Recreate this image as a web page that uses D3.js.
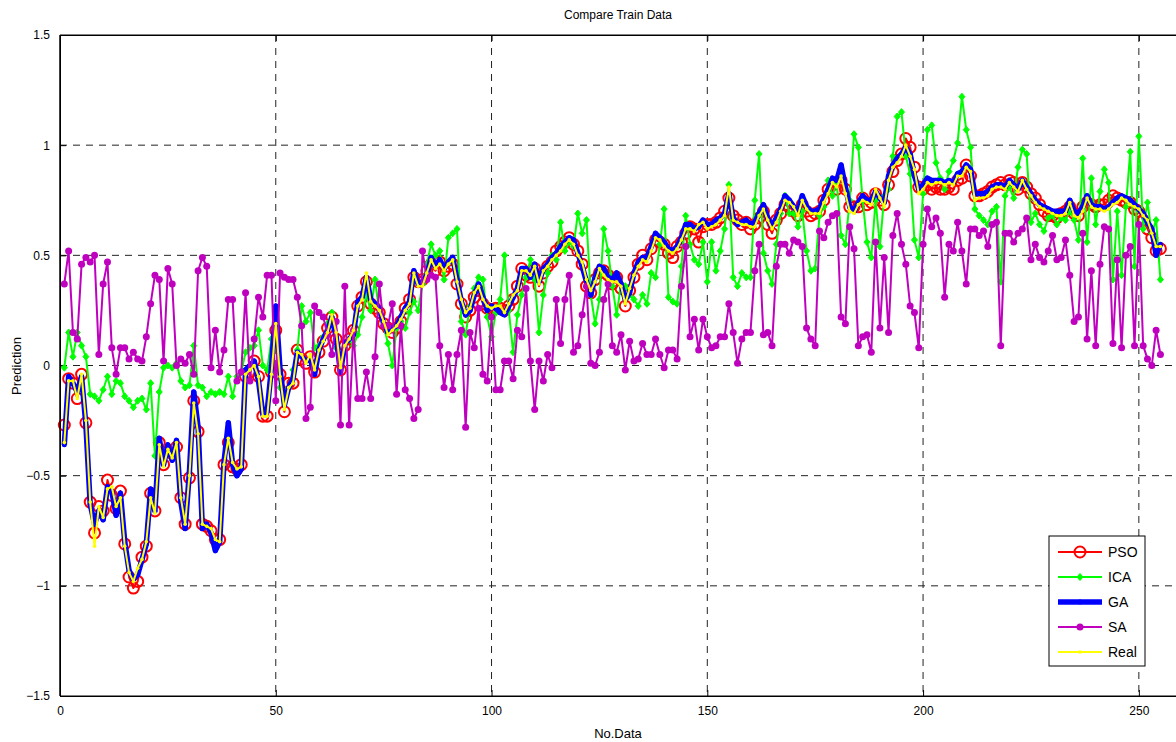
<!DOCTYPE html>
<html>
<head>
<meta charset="utf-8">
<script src="https://cdn.jsdelivr.net/npm/d3@7"></script>
<style>
  body { margin: 0; background: #fff; }
  text { font-family: "Liberation Sans", Arial, sans-serif; }
</style>
</head>
<body>
<div id="chart"></div>
<script>
// values (sample 1..255)
var real = [
  -0.35,-0.07,-0.07,-0.15,-0.04,-0.25,-0.62,-0.82,-0.64,-0.69,
  -0.56,-0.55,-0.64,-0.60,-0.82,-0.94,-0.98,-0.92,-0.88,-0.80,
  -0.60,-0.67,-0.36,-0.46,-0.38,-0.42,-0.35,-0.60,-0.72,-0.50,
  -0.17,-0.31,-0.72,-0.73,-0.74,-0.79,-0.80,-0.45,-0.33,-0.44,
  -0.47,-0.46,-0.04,-0.02,0.00,-0.05,-0.23,-0.23,-0.04,0.19,
  -0.05,-0.20,-0.10,-0.08,0.06,0.05,0.01,0.05,-0.02,0.07,
  0.11,0.15,0.23,0.15,-0.01,0.09,0.12,0.16,0.27,0.30,
  0.42,0.29,0.27,0.25,0.20,0.14,0.16,0.18,0.21,0.25,
  0.28,0.42,0.36,0.36,0.42,0.48,0.44,0.46,0.43,0.46,
  0.48,0.38,0.30,0.24,0.26,0.33,0.36,0.30,0.27,0.26,
  0.27,0.27,0.24,0.28,0.32,0.34,0.43,0.43,0.41,0.45,
  0.37,0.43,0.45,0.48,0.50,0.52,0.55,0.57,0.55,0.50,
  0.47,0.39,0.34,0.38,0.44,0.41,0.39,0.38,0.38,0.36,
  0.28,0.35,0.41,0.45,0.48,0.47,0.52,0.58,0.57,0.54,
  0.52,0.51,0.53,0.57,0.62,0.62,0.61,0.64,0.65,0.62,
  0.63,0.64,0.66,0.68,0.81,0.66,0.65,0.64,0.64,0.63,
  0.63,0.68,0.71,0.66,0.62,0.65,0.70,0.75,0.74,0.72,
  0.68,0.75,0.71,0.69,0.69,0.69,0.74,0.78,0.83,0.81,
  0.86,0.78,0.70,0.69,0.73,0.75,0.74,0.73,0.80,0.76,
  0.72,0.84,0.90,0.92,0.95,1.00,0.95,0.89,0.78,0.80,
  0.83,0.82,0.83,0.83,0.82,0.83,0.82,0.86,0.86,0.90,
  0.88,0.75,0.76,0.76,0.77,0.80,0.81,0.81,0.80,0.83,
  0.81,0.79,0.84,0.80,0.77,0.74,0.72,0.71,0.70,0.69,
  0.68,0.68,0.69,0.74,0.68,0.67,0.70,0.76,0.72,0.71,
  0.71,0.70,0.71,0.73,0.74,0.76,0.75,0.73,0.72,0.71,
  0.68,0.66,0.60,0.54,0.54
];

var pso = [
  -0.27,-0.06,-0.08,-0.15,-0.04,-0.26,-0.62,-0.76,-0.64,-0.66,
  -0.52,-0.59,-0.65,-0.57,-0.81,-0.96,-1.01,-0.98,-0.87,-0.82,
  -0.58,-0.66,-0.35,-0.45,-0.39,-0.40,-0.37,-0.60,-0.72,-0.51,
  -0.16,-0.30,-0.72,-0.73,-0.75,-0.79,-0.79,-0.45,-0.35,-0.46,
  -0.47,-0.45,-0.05,-0.03,0.02,-0.05,-0.23,-0.23,-0.03,0.16,
  -0.04,-0.21,-0.08,-0.08,0.07,0.03,0.01,0.04,-0.03,0.06,
  0.11,0.17,0.22,0.12,-0.02,0.09,0.12,0.16,0.27,0.31,
  0.38,0.28,0.26,0.24,0.19,0.17,0.15,0.17,0.20,0.26,
  0.30,0.40,0.38,0.39,0.43,0.46,0.43,0.47,0.43,0.45,
  0.46,0.37,0.28,0.22,0.25,0.31,0.34,0.28,0.26,0.25,
  0.26,0.26,0.25,0.27,0.30,0.36,0.44,0.41,0.40,0.44,
  0.36,0.42,0.45,0.47,0.52,0.54,0.56,0.58,0.55,0.52,
  0.46,0.36,0.33,0.39,0.42,0.43,0.41,0.37,0.40,0.35,
  0.27,0.34,0.40,0.46,0.50,0.48,0.53,0.57,0.56,0.55,
  0.51,0.49,0.54,0.56,0.60,0.63,0.62,0.56,0.63,0.64,
  0.64,0.65,0.67,0.70,0.76,0.68,0.66,0.64,0.65,0.62,
  0.64,0.67,0.70,0.64,0.60,0.66,0.69,0.73,0.72,0.70,
  0.68,0.73,0.70,0.68,0.69,0.70,0.75,0.80,0.82,0.80,
  0.84,0.80,0.72,0.72,0.72,0.76,0.73,0.74,0.78,0.75,
  0.73,0.82,0.88,0.93,0.96,1.03,0.99,0.90,0.81,0.80,
  0.82,0.80,0.81,0.80,0.80,0.81,0.80,0.84,0.85,0.91,
  0.86,0.77,0.77,0.78,0.79,0.81,0.82,0.83,0.82,0.84,
  0.83,0.80,0.83,0.81,0.78,0.76,0.73,0.70,0.68,0.68,
  0.67,0.69,0.70,0.72,0.69,0.68,0.72,0.74,0.73,0.72,
  0.73,0.73,0.75,0.77,0.76,0.75,0.74,0.74,0.71,0.70,
  0.66,0.62,0.58,0.52,0.53
];

var ga = [
  -0.36,-0.05,-0.08,-0.12,-0.05,-0.27,-0.63,-0.72,-0.66,-0.70,
  -0.55,-0.57,-0.68,-0.58,-0.80,-0.93,-0.97,-0.95,-0.88,-0.81,
  -0.56,-0.66,-0.33,-0.45,-0.36,-0.43,-0.34,-0.62,-0.74,-0.48,
  -0.12,-0.28,-0.74,-0.72,-0.76,-0.84,-0.80,-0.44,-0.26,-0.45,
  -0.50,-0.47,-0.02,0.00,0.02,-0.07,-0.22,-0.21,-0.01,0.27,
  -0.02,-0.18,-0.10,-0.06,0.06,0.04,0.02,0.03,-0.04,0.07,
  0.12,0.16,0.22,0.13,-0.03,0.10,0.12,0.14,0.29,0.31,
  0.40,0.30,0.28,0.26,0.19,0.15,0.17,0.18,0.22,0.26,
  0.29,0.43,0.37,0.38,0.41,0.49,0.45,0.48,0.44,0.47,
  0.49,0.39,0.29,0.23,0.25,0.32,0.37,0.31,0.25,0.27,
  0.26,0.24,0.23,0.27,0.31,0.35,0.44,0.44,0.40,0.46,
  0.38,0.44,0.46,0.49,0.51,0.54,0.56,0.58,0.57,0.51,
  0.45,0.38,0.32,0.40,0.45,0.44,0.40,0.39,0.42,0.37,
  0.30,0.33,0.42,0.47,0.49,0.49,0.54,0.60,0.58,0.56,
  0.53,0.52,0.54,0.58,0.64,0.64,0.62,0.63,0.66,0.64,
  0.64,0.66,0.67,0.69,0.78,0.67,0.64,0.65,0.66,0.64,
  0.65,0.69,0.73,0.67,0.63,0.67,0.71,0.77,0.75,0.72,
  0.70,0.77,0.72,0.70,0.70,0.71,0.76,0.80,0.85,0.84,
  0.91,0.81,0.72,0.70,0.74,0.77,0.75,0.75,0.79,0.76,
  0.74,0.86,0.91,0.94,0.96,0.99,0.96,0.86,0.80,0.82,
  0.85,0.84,0.84,0.84,0.83,0.84,0.83,0.87,0.88,0.91,
  0.89,0.78,0.78,0.78,0.79,0.81,0.82,0.82,0.81,0.84,
  0.82,0.80,0.84,0.81,0.78,0.75,0.73,0.72,0.71,0.70,
  0.70,0.70,0.70,0.75,0.70,0.69,0.72,0.77,0.73,0.72,
  0.72,0.71,0.72,0.74,0.76,0.77,0.76,0.75,0.73,0.71,
  0.69,0.65,0.62,0.50,0.55
];

var ica = [
  -0.01,0.15,0.04,0.15,0.09,0.04,-0.13,-0.14,-0.16,-0.11,
  -0.05,-0.13,-0.07,-0.08,-0.14,-0.16,-0.19,-0.16,-0.15,-0.20,
  -0.08,-0.41,-0.12,-0.01,0.00,-0.01,0.01,-0.07,-0.10,-0.09,
  0.09,-0.09,-0.10,-0.14,-0.12,-0.13,-0.12,-0.13,-0.05,-0.14,
  -0.05,-0.03,0.06,0.08,0.09,0.16,0.00,-0.02,0.12,0.10,
  -0.10,-0.16,-0.10,-0.02,0.07,0.27,0.20,0.24,0.08,0.09,
  0.13,0.19,0.24,0.08,0.03,0.08,0.12,0.09,0.14,0.22,
  0.32,0.25,0.39,0.24,0.18,0.10,0.00,0.17,0.20,0.17,
  0.24,0.29,0.25,0.37,0.46,0.55,0.50,0.52,0.39,0.58,
  0.60,0.62,0.20,0.14,0.27,0.35,0.40,0.39,0.22,0.13,
  0.24,0.30,0.50,0.25,0.06,0.23,0.32,0.40,0.48,0.39,
  0.15,0.32,0.42,0.50,0.48,0.65,0.52,0.56,0.54,0.69,
  0.60,0.66,0.32,0.19,0.30,0.62,0.52,0.36,0.23,0.37,
  0.36,0.32,0.30,0.27,0.32,0.28,0.42,0.40,0.55,0.71,
  0.31,0.29,0.28,0.45,0.68,0.55,0.48,0.46,0.56,0.38,
  0.56,0.43,0.52,0.62,0.82,0.40,0.36,0.42,0.40,0.40,
  0.75,0.96,0.51,0.43,0.37,0.55,0.69,0.77,0.69,0.69,
  0.63,0.70,0.52,0.43,0.44,0.68,0.72,0.84,0.77,0.83,
  0.59,0.55,0.75,1.05,0.99,0.75,0.56,0.49,0.75,0.54,
  0.77,0.80,0.95,1.13,1.15,0.95,0.87,0.57,0.49,0.78,
  1.07,1.09,0.92,0.85,0.80,0.88,0.93,1.01,1.22,1.07,
  0.99,0.71,0.68,0.66,0.64,0.70,0.72,0.38,0.77,0.81,
  0.76,0.90,0.98,0.96,0.65,0.69,0.64,0.61,0.67,0.68,
  0.64,0.67,0.66,0.70,0.66,0.57,0.94,0.56,0.85,0.64,
  0.79,0.89,0.83,0.39,0.70,0.41,0.72,0.97,0.45,1.04,
  0.62,0.74,0.60,0.66,0.39
];

var sa = [
  0.37,0.52,0.15,0.12,0.46,0.49,0.47,0.50,0.05,0.37,
  0.47,0.08,-0.04,0.08,0.08,0.03,0.06,0.03,0.02,0.13,
  0.28,0.41,0.39,0.02,0.44,0.37,0.00,0.03,0.01,0.05,
  -0.04,0.43,0.49,0.45,-0.01,0.16,-0.03,0.07,0.30,0.30,
  -0.07,-0.03,0.33,-0.07,0.12,0.31,0.22,0.41,0.41,-0.16,
  0.42,0.40,0.39,0.39,0.31,0.18,-0.24,-0.19,0.27,0.24,
  0.22,0.14,0.05,0.20,-0.27,0.36,-0.27,0.16,-0.15,-0.15,
  -0.03,-0.15,0.04,0.37,0.18,0.18,0.28,-0.13,0.18,-0.11,
  -0.15,-0.24,-0.20,0.52,0.39,0.41,0.40,0.09,-0.10,0.05,
  -0.11,0.05,0.16,-0.28,0.15,0.08,0.26,-0.04,-0.07,0.22,
  -0.11,-0.11,0.02,0.02,-0.06,0.16,0.13,0.35,0.02,-0.20,
  0.02,-0.07,0.05,-0.01,0.30,0.10,0.30,0.41,0.06,0.09,
  0.23,0.36,0.01,0.00,0.06,0.30,0.37,0.09,0.06,0.14,
  -0.02,0.11,0.02,0.03,0.10,0.05,0.05,0.12,0.05,-0.01,
  0.07,0.07,0.03,0.36,0.54,0.13,0.21,0.07,0.21,0.13,
  0.08,0.09,0.13,0.13,0.28,0.15,0.01,0.12,0.15,0.15,
  0.43,0.55,0.14,0.15,0.09,0.45,0.55,0.55,0.51,0.57,
  0.56,0.54,0.17,0.12,0.09,0.61,0.58,0.65,0.68,0.69,
  0.22,0.19,0.63,0.53,0.09,0.13,0.14,0.06,0.56,0.17,
  0.49,0.15,0.59,0.69,0.55,0.46,0.27,0.24,0.08,0.55,
  0.71,0.63,0.67,0.60,0.31,0.55,0.52,0.65,0.52,0.37,
  0.62,0.62,0.59,0.61,0.54,0.64,0.65,0.09,0.60,0.60,
  0.56,0.60,0.62,0.67,0.48,0.55,0.49,0.47,0.52,0.59,
  0.48,0.49,0.57,0.41,0.20,0.22,0.60,0.12,0.43,0.09,
  0.46,0.63,0.62,0.10,0.48,0.08,0.50,0.54,0.09,0.64,
  0.09,0.03,0.00,0.16,0.05
];

var xTicks = [0, 50, 100, 150, 200, 250];
var yTicks = [-1.5, -1, -0.5, 0, 0.5, 1, 1.5];
var seriesNames = ["PSO", "ICA", "GA", "SA", "Real"];

var svgWidth = 1176;
var svgHeight = 742;
var margin = { top: 35, right: -6, bottom: 46, left: 60 };
var chartWidth = svgWidth - margin.left - margin.right;
var chartHeight = svgHeight - margin.top - margin.bottom;

var svg = d3.select("#chart")
  .append("svg")
  .attr("width", svgWidth)
  .attr("height", svgHeight)
  .style("display", "block");

var chartGroup = svg.append("g")
  .attr("transform", `translate(${margin.left}, ${margin.top})`);

var xScale = d3.scaleLinear().domain([0, 260]).range([0, chartWidth]);
var yScale = d3.scaleLinear().domain([-1.5, 1.5]).range([chartHeight, 0]);

// dashed grid
chartGroup.append("g")
  .selectAll("line")
  .data(xTicks.slice(1))
  .enter()
  .append("line")
  .attr("x1", d => xScale(d)).attr("x2", d => xScale(d))
  .attr("y1", 0).attr("y2", chartHeight)
  .attr("stroke", "#222").attr("stroke-width", 1)
  .attr("stroke-dasharray", "7,6");

chartGroup.append("g")
  .selectAll("line")
  .data(yTicks.slice(1, -1))
  .enter()
  .append("line")
  .attr("x1", 0).attr("x2", chartWidth)
  .attr("y1", d => yScale(d)).attr("y2", d => yScale(d))
  .attr("stroke", "#222").attr("stroke-width", 1)
  .attr("stroke-dasharray", "7,6");

// axes (MATLAB style, inward ticks)
var xAxis = d3.axisBottom(xScale).tickValues(xTicks).tickSizeInner(-6).tickSizeOuter(0).tickPadding(10);
var yAxis = d3.axisLeft(yScale).tickValues(yTicks).tickSizeInner(-6).tickSizeOuter(0).tickPadding(10)
  .tickFormat(d => d === 0 ? "0" : d3.format("")(d));

var gx = chartGroup.append("g")
  .attr("class", "xaxis")
  .attr("transform", `translate(0, ${chartHeight})`)
  .call(xAxis);
var gy = chartGroup.append("g")
  .attr("class", "yaxis")
  .call(yAxis);
chartGroup.append("g")
  .call(d3.axisTop(xScale).tickValues(xTicks).tickSizeInner(-6).tickSizeOuter(0).tickFormat(""));

[gx, gy].forEach(function(g) {
  g.selectAll("text").attr("font-size", 12).attr("fill", "#000")
    .attr("font-family", "'Liberation Sans', Arial, sans-serif");
  g.selectAll("line, path").attr("stroke", "#000");
});

// series
var line = d3.line()
  .x((d, i) => xScale(i + 1))
  .y(d => yScale(d));

var series = [
  { name: "PSO", values: pso, color: "#ff0000", width: 2 },
  { name: "ICA", values: ica, color: "#00ff00", width: 2 },
  { name: "GA", values: ga, color: "#0000ff", width: 5.5 },
  { name: "SA", values: sa, color: "#bf00bf", width: 2 },
  { name: "Real", values: real, color: "#ffff00", width: 2 }
];

var plot = chartGroup.append("g");

function drawMarkers(g, s, xPos, yPos) {
  if (s.name === "PSO") {
    g.append("circle").attr("cx", xPos).attr("cy", yPos).attr("r", 5.5)
      .attr("fill", "none").attr("stroke", s.color).attr("stroke-width", 2);
  } else if (s.name === "ICA") {
    g.append("path").attr("d", `M${xPos},${yPos-3.5}L${xPos+3},${yPos}L${xPos},${yPos+3.5}L${xPos-3},${yPos}Z`)
      .attr("fill", s.color).attr("stroke", s.color).attr("stroke-width", 1);
  } else if (s.name === "GA") {
    g.append("circle").attr("cx", xPos).attr("cy", yPos).attr("r", 2.5).attr("fill", s.color);
  } else if (s.name === "SA") {
    g.append("circle").attr("cx", xPos).attr("cy", yPos).attr("r", 3.5).attr("fill", s.color);
  } else {
    g.append("circle").attr("cx", xPos).attr("cy", yPos).attr("r", 1.8).attr("fill", s.color);
  }
}

series.forEach(function(s) {
  var g = plot.append("g").attr("class", "series-" + s.name);
  g.append("path")
    .datum(s.values)
    .attr("fill", "none")
    .attr("stroke", s.color)
    .attr("stroke-width", s.width)
    .attr("stroke-linejoin", "round")
    .attr("d", line);
  s.values.forEach(function(v, i) {
    drawMarkers(g, s, xScale(i + 1), yScale(v));
  });
});

// left, top and bottom frame lines
chartGroup.append("line").attr("x1", 0).attr("x2", 0).attr("y1", 0).attr("y2", chartHeight)
  .attr("stroke", "#000").attr("stroke-width", 1.5);
chartGroup.append("line").attr("x1", 0).attr("x2", chartWidth).attr("y1", 0).attr("y2", 0)
  .attr("stroke", "#000").attr("stroke-width", 1);
chartGroup.append("line").attr("x1", 0).attr("x2", chartWidth).attr("y1", chartHeight).attr("y2", chartHeight)
  .attr("stroke", "#000").attr("stroke-width", 1);

// title and axis labels
svg.append("text")
  .attr("x", 618).attr("y", 19)
  .attr("text-anchor", "middle").attr("font-size", 12)
  .text("Compare Train Data");

svg.append("text")
  .attr("x", 618).attr("y", 738)
  .attr("text-anchor", "middle").attr("font-size", 13)
  .text("No.Data");

svg.append("text")
  .attr("transform", "translate(21, 366) rotate(-90)")
  .attr("text-anchor", "middle").attr("font-size", 13)
  .text("Prediction");

// legend
var legend = svg.append("g").attr("transform", "translate(1049, 536)");
legend.append("rect")
  .attr("width", 96).attr("height", 130)
  .attr("fill", "#fff").attr("stroke", "#000").attr("stroke-width", 1);

series.forEach(function(s, i) {
  var ly = 16 + i * 25;
  var row = legend.append("g");
  row.append("line")
    .attr("x1", 9).attr("x2", 53).attr("y1", ly).attr("y2", ly)
    .attr("stroke", s.color).attr("stroke-width", s.width);
  drawMarkers(row, s, 31, ly);
  row.append("text")
    .attr("x", 59).attr("y", ly + 5)
    .attr("font-size", 14)
    .text(seriesNames[i]);
});
</script>
</body>
</html>
